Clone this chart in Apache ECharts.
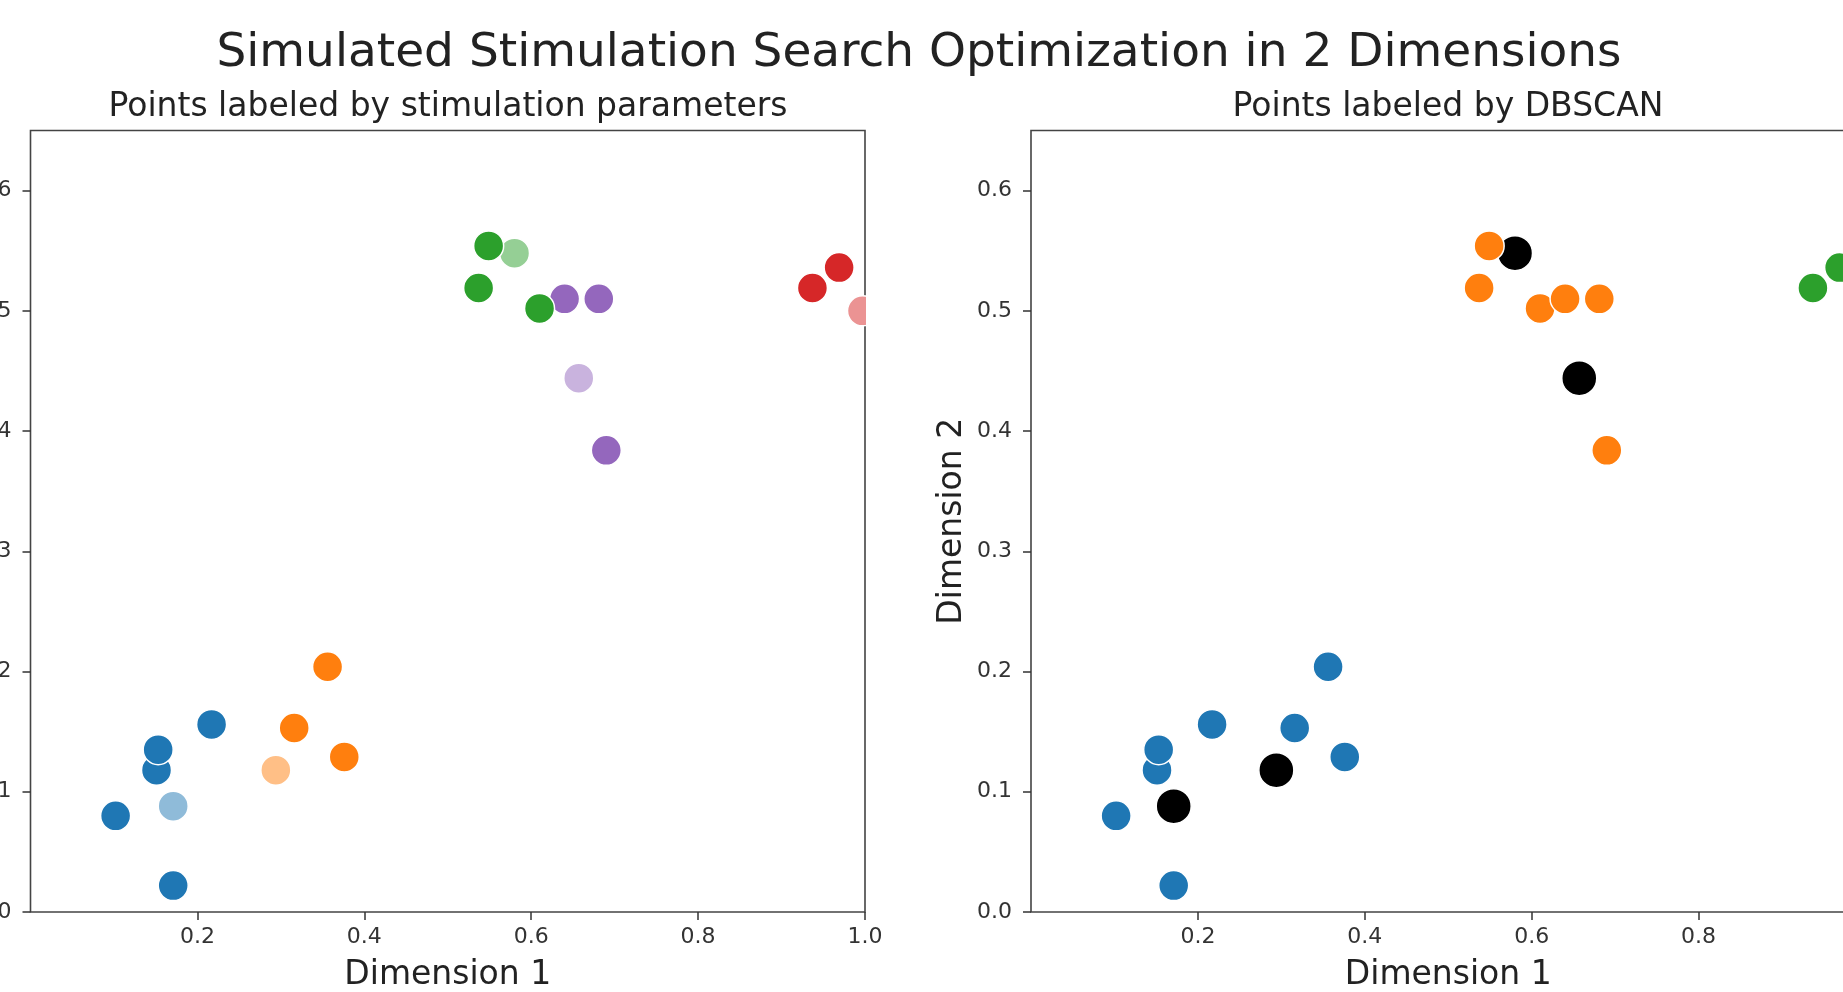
<!DOCTYPE html>
<html>
<head>
<meta charset="utf-8">
<script src="https://cdn.jsdelivr.net/npm/echarts@6/dist/echarts.min.js"></script>
<style>
html,body{margin:0;padding:0;background:#fff;}
#chart{width:1843px;height:992px;}
</style>
</head>
<body>
<div id="chart"></div>
<script>
// ---- data ----
const dim1 = [0.102, 0.151, 0.153, 0.217, 0.171, 0.171, 0.356, 0.316, 0.376, 0.294,
              0.549, 0.580, 0.537, 0.610, 0.640, 0.681, 0.657, 0.690, 0.937, 0.969, 0.997];
const dim2 = [0.080, 0.118, 0.135, 0.156, 0.022, 0.088, 0.204, 0.153, 0.129, 0.118,
              0.554, 0.548, 0.519, 0.502, 0.510, 0.510, 0.444, 0.384, 0.519, 0.536, 0.500];
// stimulation parameter group of each point
const paramGroup = [0, 0, 0, 0, 0, 0, 1, 1, 1, 1, 2, 2, 2, 2, 3, 3, 3, 3, 4, 4, 4];
// seed (lighter shade) points
const isSeed = [0, 0, 0, 0, 0, 1, 0, 0, 0, 1, 0, 1, 0, 0, 0, 0, 1, 0, 0, 0, 1];
// DBSCAN cluster label (-1 = noise)
const dbscan = [0, 0, 0, 0, 0, -1, 0, 0, 0, -1, 1, -1, 1, 1, 1, 1, -1, 1, 2, 2, -1];
const xTicks = [0.2, 0.4, 0.6, 0.8, 1.0];
const yTicks = [0.0, 0.1, 0.2, 0.3, 0.4, 0.5, 0.6];

// ---- styles ----
const FONT = 'DejaVu Sans';
const dark = ['#1f77b4', '#ff7f0e', '#2ca02c', '#9467bd', '#d62728'];
const light = ['#8fbbd9', '#ffbf86', '#95cf95', '#c9b3de', '#eb9393'];
const clusterColor = {'-1': '#000000', '0': '#1f77b4', '1': '#ff7f0e', '2': '#2ca02c'};

function xAxisCfg(idx) {
  return {
    gridIndex: idx, type: 'value', min: 0, max: 1.0,
    name: 'Dimension 1', nameLocation: 'middle', nameGap: 47,
    nameTextStyle: {fontFamily: FONT, fontSize: 33, color: '#222'},
    axisLine: {show: false},
    axisTick: {show: true, length: 8, lineStyle: {color: '#333', width: 1.5}, customValues: xTicks},
    axisLabel: {show: true, margin: 14, fontFamily: FONT, fontSize: 22, color: '#333',
      customValues: xTicks, formatter: v => Number(v).toFixed(1)},
    splitLine: {show: false}
  };
}
function yAxisCfg(idx, withName) {
  const c = {
    gridIndex: idx, type: 'value', min: 0, max: 0.65,
    axisLine: {show: false},
    axisTick: {show: true, length: 8, lineStyle: {color: '#333', width: 1.5}, customValues: yTicks},
    axisLabel: {show: true, margin: 19, fontFamily: FONT, fontSize: 22, color: '#333',
      customValues: yTicks, formatter: v => Number(v).toFixed(1)},
    splitLine: {show: false}
  };
  if (withName) {
    c.name = 'Dimension 2';
    c.nameLocation = 'middle';
    c.nameGap = 62;
    c.nameTextStyle = {fontFamily: FONT, fontSize: 33, color: '#222'};
  }
  return c;
}

const series = [];
// left plot: draw order groups (purple before green so green overlays)
const leftOrder = [0, 1, 3, 2, 4];
leftOrder.forEach(g => {
  const data = [];
  for (let i = 0; i < dim1.length; i++) {
    if (paramGroup[i] === g && isSeed[i]) data.push({value: [dim1[i], dim2[i]], itemStyle: {color: light[g]}});
  }
  for (let i = 0; i < dim1.length; i++) {
    if (paramGroup[i] === g && !isSeed[i]) data.push({value: [dim1[i], dim2[i]], itemStyle: {color: dark[g]}});
  }
  series.push({
    type: 'scatter', xAxisIndex: 0, yAxisIndex: 0, symbolSize: 30, clip: true,
    itemStyle: {borderColor: '#ffffff', borderWidth: 1.5, opacity: 1},
    emphasis: {disabled: true},
    data: data
  });
});
// right plot: noise first, then clusters
[-1, 0, 1, 2].forEach(lab => {
  const data = [];
  for (let i = 0; i < dim1.length; i++) {
    if (dbscan[i] === lab) data.push([dim1[i], dim2[i]]);
  }
  series.push({
    type: 'scatter', xAxisIndex: 1, yAxisIndex: 1, symbolSize: lab === -1 ? 35 : 30, clip: true,
    itemStyle: {color: clusterColor[String(lab)], borderColor: '#ffffff', borderWidth: 1.5, opacity: 1},
    emphasis: {disabled: true},
    data: data
  });
});

const chart = echarts.init(document.getElementById('chart'), null, {renderer: 'canvas'});
chart.setOption({
  backgroundColor: '#ffffff',
  animation: false,
  grid: [
    {left: 30.5, top: 130.5, width: 834.5, height: 781.5, containLabel: false, outerBoundsMode: 'none',
     show: true, borderColor: '#444', borderWidth: 1.6, backgroundColor: 'transparent'},
    {left: 1031, top: 130.5, width: 834.5, height: 781.5, containLabel: false, outerBoundsMode: 'none',
     show: true, borderColor: '#444', borderWidth: 1.6, backgroundColor: 'transparent'}
  ],
  xAxis: [xAxisCfg(0), xAxisCfg(1)],
  yAxis: [yAxisCfg(0, false), yAxisCfg(1, true)],
  graphic: [
    // mask: clip markers at the left panel's right spine (as the plotting area does)
    {type: 'rect', z: 100, silent: true, shape: {x: 866, y: 131, width: 40, height: 780},
      style: {fill: '#ffffff'}},
    {type: 'text', x: 919, y: 54, style: {text: 'Simulated Stimulation Search Optimization in 2 Dimensions',
      font: '47px "DejaVu Sans"', fill: '#222', textAlign: 'center', textVerticalAlign: 'middle'}},
    {type: 'text', x: 448, y: 107, style: {text: 'Points labeled by stimulation parameters',
      font: '33px "DejaVu Sans"', fill: '#222', textAlign: 'center', textVerticalAlign: 'middle'}},
    {type: 'text', x: 1448, y: 107, style: {text: 'Points labeled by DBSCAN',
      font: '33px "DejaVu Sans"', fill: '#222', textAlign: 'center', textVerticalAlign: 'middle'}}
  ],
  series: series
});
</script>
</body>
</html>
